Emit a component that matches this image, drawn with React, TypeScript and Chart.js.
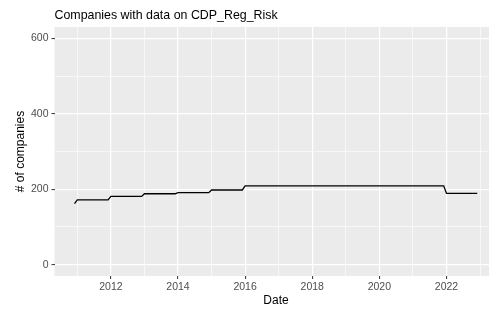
import React, { useEffect, useRef } from "react";
import { Chart, registerables } from "chart.js";

Chart.register(...registerables);

const chartTitle = "Companies with data on CDP_Reg_Risk";
const xTitle = "Date";
const yTitle = "# of companies";

// month stamps (YYYY-MM) and count of companies
const dates = [
  "2010-12", "2011-01", "2011-12", "2012-01", "2012-12", "2013-01", "2013-12",
  "2014-01", "2014-12", "2015-01", "2015-12", "2016-01", "2021-12", "2022-01", "2022-12",
];
const counts = [162, 172, 172, 181, 181, 188, 188, 191, 191, 198, 198, 209, 209, 189, 189];

const xTickYears = [2011, 2012, 2013, 2014, 2015, 2016, 2017, 2018, 2019, 2020, 2021, 2022, 2023];
const yTickValues = [0, 100, 200, 300, 400, 500, 600];
const xRange = [2010.32, 2023.52];
const yRange = [-30, 630];

const FONT = "'Liberation Sans', Arial, Helvetica, sans-serif";

function toYear(d: string): number {
  const [y, m] = d.split("-").map(Number);
  return y + (m - 1) / 12;
}

const panelPlugin = {
  id: "panelBg",
  beforeDraw(chart: any) {
    const { ctx, chartArea } = chart;
    ctx.save();
    ctx.fillStyle = "#EBEBEB";
    ctx.fillRect(chartArea.left, chartArea.top, chartArea.right - chartArea.left, chartArea.bottom - chartArea.top);
    ctx.restore();
  },
  afterDraw(chart: any) {
    const { ctx, chartArea } = chart;
    ctx.save();
    ctx.fillStyle = "#000000";
    ctx.font = `12.4px ${FONT}`;
    ctx.textBaseline = "alphabetic";
    ctx.textAlign = "left";
    ctx.fillText(chartTitle, chartArea.left, 19);
    ctx.restore();
  },
};

export default function App() {
  const ref = useRef<HTMLCanvasElement | null>(null);

  useEffect(() => {
    if (!ref.current) return;
    const data = dates.map((d, i) => ({ x: toYear(d), y: counts[i] }));
    const chart = new Chart(ref.current, {
      type: "line",
      data: {
        datasets: [
          {
            data,
            borderColor: "#000000",
            borderWidth: 1.3,
            pointRadius: 0,
            tension: 0,
            fill: false,
          },
        ],
      },
      plugins: [panelPlugin],
      options: {
        animation: false,
        responsive: false,
        devicePixelRatio: 1,
        layout: { padding: { top: 27, right: 5.5, left: 0, bottom: 0 } },
        plugins: { legend: { display: false }, tooltip: { enabled: false }, title: { display: false } },
        scales: {
          x: {
            type: "linear",
            min: xRange[0],
            max: xRange[1],
            afterBuildTicks: (s: any) => {
              s.ticks = xTickYears.map((v) => ({ value: v }));
            },
            afterFit: (s: any) => {
              s.height = 37;
            },
            border: { display: false },
            grid: {
              color: "#FFFFFF",
              lineWidth: (c: any) => (c.tick && c.tick.value % 2 === 0 ? 1.2 : 0.6),
              tickColor: (c: any) => (c.tick && c.tick.value % 2 === 0 ? "#333333" : "rgba(0,0,0,0)"),
              tickLength: 3,
              tickWidth: 1,
            },
            ticks: {
              autoSkip: false,
              maxRotation: 0,
              padding: 2,
              color: "#4D4D4D",
              font: { family: FONT, size: 10.5 },
              callback: (v: any) => (Number(v) % 2 === 0 ? String(v) : ""),
            },
            title: {
              display: true,
              text: xTitle,
              color: "#000000",
              font: { family: FONT, size: 12 },
              padding: { top: 0, bottom: 5 },
            },
          },
          y: {
            type: "linear",
            min: yRange[0],
            max: yRange[1],
            afterBuildTicks: (s: any) => {
              s.ticks = yTickValues.map((v) => ({ value: v }));
            },
            afterFit: (s: any) => {
              s.width = 54.5;
            },
            border: { display: false },
            grid: {
              color: "#FFFFFF",
              lineWidth: (c: any) => (c.tick && c.tick.value % 200 === 0 ? 1.2 : 0.6),
              tickColor: (c: any) => (c.tick && c.tick.value % 200 === 0 ? "#333333" : "rgba(0,0,0,0)"),
              tickLength: 3,
              tickWidth: 1,
            },
            ticks: {
              autoSkip: false,
              padding: 3,
              color: "#4D4D4D",
              font: { family: FONT, size: 10.5 },
              callback: (v: any) => (Number(v) % 200 === 0 ? String(v) : ""),
            },
            title: {
              display: true,
              text: yTitle,
              color: "#000000",
              font: { family: FONT, size: 12, lineHeight: 1 },
              padding: { top: 15, bottom: 0 },
            },
          },
        },
      },
    });
    return () => chart.destroy();
  }, []);

  return (
    <div style={{ position: "fixed", left: 0, top: 0, width: 489, height: 313, overflow: "hidden", background: "#FFFFFF" }}>
      <canvas ref={ref} width={503} height={313} style={{ width: 503, height: 313, display: "block" }} />
    </div>
  );
}
